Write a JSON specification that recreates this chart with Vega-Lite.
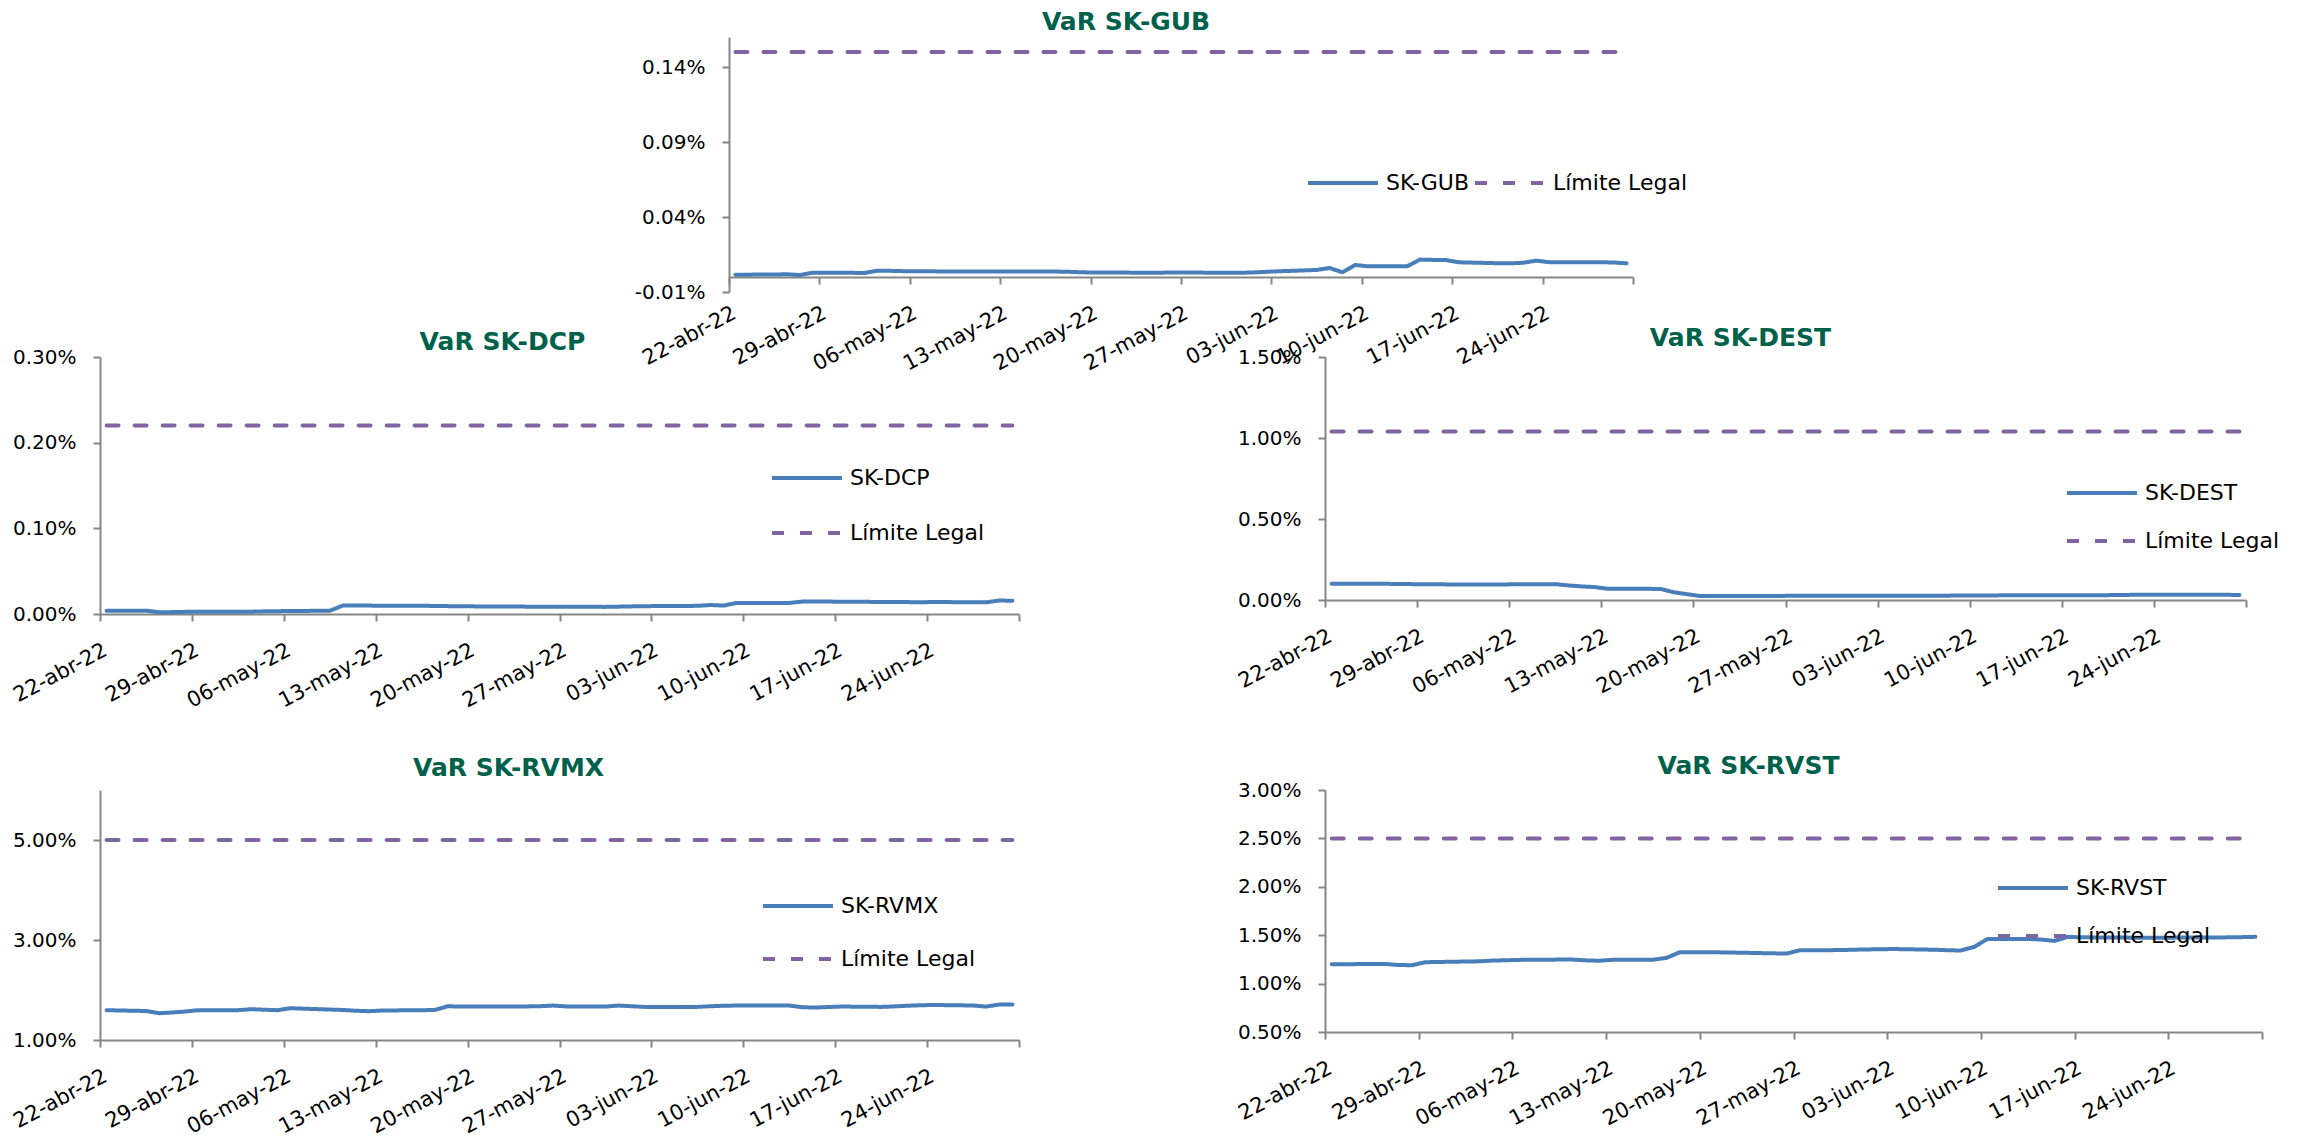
{
"$schema": "https://vega.github.io/schema/vega-lite/v6.json",
"padding": {"left": 9, "top": 10, "right": 0, "bottom": 0},
"background": "white",
"config": {
  "view": {"stroke": null},
  "font": "DejaVu Sans",
  "axis": {"domainColor": "#868686", "domainWidth": 2, "tickColor": "#868686", "tickWidth": 2, "tickSize": 7, "grid": false, "labelFont": "DejaVu Sans", "labelFontSize": 20, "labelColor": "#000000", "title": null, "labelOverlap": false, "labelFlush": false},
  "axisX": {"labelAngle": -28, "labelAlign": "right", "labelBaseline": "top", "labelFontSize": 21, "labelPadding": 18},
  "axisY": {"labelPadding": 17},
  "legend": {"orient": "none", "title": null, "symbolType": "stroke", "symbolSize": 4900, "symbolStrokeWidth": 4, "labelFont": "DejaVu Sans", "labelFontSize": 22, "labelColor": "#000000", "labelOffset": 6, "padding": 0},
  "title": {"font": "DejaVu Sans", "fontSize": 25, "fontWeight": "bold", "color": "#00614B", "anchor": "middle", "frame": "group"},
  "line": {"strokeWidth": 4, "strokeCap": "round", "strokeJoin": "round"}
},
"datasets": {
"gub": [
{"s":"SK-GUB","d":"2022-04-22T12:00","v":0.000015},{"s":"SK-GUB","d":"2022-04-25T12:00","v":0.000017},{"s":"SK-GUB","d":"2022-04-26T12:00","v":0.000018},{"s":"SK-GUB","d":"2022-04-27T12:00","v":0.000013},{"s":"SK-GUB","d":"2022-04-28T12:00","v":0.000029},{"s":"SK-GUB","d":"2022-04-29T12:00","v":0.000029},
{"s":"SK-GUB","d":"2022-05-02T12:00","v":0.000027},{"s":"SK-GUB","d":"2022-05-03T12:00","v":0.000042},{"s":"SK-GUB","d":"2022-05-04T12:00","v":0.000041},{"s":"SK-GUB","d":"2022-05-05T12:00","v":0.000039},{"s":"SK-GUB","d":"2022-05-06T12:00","v":0.000038},
{"s":"SK-GUB","d":"2022-05-09T12:00","v":0.000037},{"s":"SK-GUB","d":"2022-05-10T12:00","v":0.000037},{"s":"SK-GUB","d":"2022-05-11T12:00","v":0.000037},{"s":"SK-GUB","d":"2022-05-12T12:00","v":0.000036},{"s":"SK-GUB","d":"2022-05-13T12:00","v":0.000036},
{"s":"SK-GUB","d":"2022-05-16T12:00","v":0.000036},{"s":"SK-GUB","d":"2022-05-17T12:00","v":0.000036},{"s":"SK-GUB","d":"2022-05-18T12:00","v":0.000034},{"s":"SK-GUB","d":"2022-05-19T12:00","v":0.000031},{"s":"SK-GUB","d":"2022-05-20T12:00","v":0.000030},
{"s":"SK-GUB","d":"2022-05-23T12:00","v":0.000029},{"s":"SK-GUB","d":"2022-05-24T12:00","v":0.000028},{"s":"SK-GUB","d":"2022-05-25T12:00","v":0.000029},{"s":"SK-GUB","d":"2022-05-26T12:00","v":0.000030},{"s":"SK-GUB","d":"2022-05-27T12:00","v":0.000030},
{"s":"SK-GUB","d":"2022-05-30T12:00","v":0.000028},{"s":"SK-GUB","d":"2022-05-31T12:00","v":0.000028},{"s":"SK-GUB","d":"2022-06-01T12:00","v":0.000030},{"s":"SK-GUB","d":"2022-06-02T12:00","v":0.000034},{"s":"SK-GUB","d":"2022-06-03T12:00","v":0.000038},
{"s":"SK-GUB","d":"2022-06-06T12:00","v":0.000047},{"s":"SK-GUB","d":"2022-06-07T12:00","v":0.000060},{"s":"SK-GUB","d":"2022-06-08T12:00","v":0.000031},{"s":"SK-GUB","d":"2022-06-09T12:00","v":0.000080},{"s":"SK-GUB","d":"2022-06-10T12:00","v":0.000071},
{"s":"SK-GUB","d":"2022-06-13T12:00","v":0.000071},{"s":"SK-GUB","d":"2022-06-14T12:00","v":0.000116},{"s":"SK-GUB","d":"2022-06-15T12:00","v":0.000114},{"s":"SK-GUB","d":"2022-06-16T12:00","v":0.000113},{"s":"SK-GUB","d":"2022-06-17T12:00","v":0.000098},
{"s":"SK-GUB","d":"2022-06-20T12:00","v":0.000092},{"s":"SK-GUB","d":"2022-06-21T12:00","v":0.000091},{"s":"SK-GUB","d":"2022-06-22T12:00","v":0.000095},{"s":"SK-GUB","d":"2022-06-23T12:00","v":0.000109},{"s":"SK-GUB","d":"2022-06-24T12:00","v":0.000099},
{"s":"SK-GUB","d":"2022-06-27T12:00","v":0.000098},{"s":"SK-GUB","d":"2022-06-28T12:00","v":0.000098},{"s":"SK-GUB","d":"2022-06-29T12:00","v":0.000097},{"s":"SK-GUB","d":"2022-06-30T12:00","v":0.000091},
{"s":"Límite Legal","d":"2022-04-22T12:00","v":0.0015},{"s":"Límite Legal","d":"2022-06-30T12:00","v":0.0015}
],
"dcp": [
{"s":"SK-DCP","d":"2022-04-22T12:00","v":0.000039},{"s":"SK-DCP","d":"2022-04-25T12:00","v":0.000039},{"s":"SK-DCP","d":"2022-04-26T12:00","v":0.000020},{"s":"SK-DCP","d":"2022-04-27T12:00","v":0.000022},{"s":"SK-DCP","d":"2022-04-28T12:00","v":0.000025},{"s":"SK-DCP","d":"2022-04-29T12:00","v":0.000027},
{"s":"SK-DCP","d":"2022-05-02T12:00","v":0.000027},{"s":"SK-DCP","d":"2022-05-03T12:00","v":0.000027},{"s":"SK-DCP","d":"2022-05-04T12:00","v":0.000031},{"s":"SK-DCP","d":"2022-05-05T12:00","v":0.000033},{"s":"SK-DCP","d":"2022-05-06T12:00","v":0.000035},
{"s":"SK-DCP","d":"2022-05-09T12:00","v":0.000038},{"s":"SK-DCP","d":"2022-05-10T12:00","v":0.000098},{"s":"SK-DCP","d":"2022-05-11T12:00","v":0.000098},{"s":"SK-DCP","d":"2022-05-12T12:00","v":0.000098},{"s":"SK-DCP","d":"2022-05-13T12:00","v":0.000097},
{"s":"SK-DCP","d":"2022-05-16T12:00","v":0.000096},{"s":"SK-DCP","d":"2022-05-17T12:00","v":0.000094},{"s":"SK-DCP","d":"2022-05-18T12:00","v":0.000092},{"s":"SK-DCP","d":"2022-05-19T12:00","v":0.000090},{"s":"SK-DCP","d":"2022-05-20T12:00","v":0.000089},
{"s":"SK-DCP","d":"2022-05-23T12:00","v":0.000087},{"s":"SK-DCP","d":"2022-05-24T12:00","v":0.000086},{"s":"SK-DCP","d":"2022-05-25T12:00","v":0.000086},{"s":"SK-DCP","d":"2022-05-26T12:00","v":0.000086},{"s":"SK-DCP","d":"2022-05-27T12:00","v":0.000086},
{"s":"SK-DCP","d":"2022-05-30T12:00","v":0.000083},{"s":"SK-DCP","d":"2022-05-31T12:00","v":0.000086},{"s":"SK-DCP","d":"2022-06-01T12:00","v":0.000089},{"s":"SK-DCP","d":"2022-06-02T12:00","v":0.000091},{"s":"SK-DCP","d":"2022-06-03T12:00","v":0.000093},
{"s":"SK-DCP","d":"2022-06-06T12:00","v":0.000095},{"s":"SK-DCP","d":"2022-06-07T12:00","v":0.000105},{"s":"SK-DCP","d":"2022-06-08T12:00","v":0.000098},{"s":"SK-DCP","d":"2022-06-09T12:00","v":0.000129},{"s":"SK-DCP","d":"2022-06-10T12:00","v":0.000129},
{"s":"SK-DCP","d":"2022-06-13T12:00","v":0.000129},{"s":"SK-DCP","d":"2022-06-14T12:00","v":0.000145},{"s":"SK-DCP","d":"2022-06-15T12:00","v":0.000147},{"s":"SK-DCP","d":"2022-06-16T12:00","v":0.000145},{"s":"SK-DCP","d":"2022-06-17T12:00","v":0.000143},
{"s":"SK-DCP","d":"2022-06-20T12:00","v":0.000141},{"s":"SK-DCP","d":"2022-06-21T12:00","v":0.000140},{"s":"SK-DCP","d":"2022-06-22T12:00","v":0.000139},{"s":"SK-DCP","d":"2022-06-23T12:00","v":0.000137},{"s":"SK-DCP","d":"2022-06-24T12:00","v":0.000140},
{"s":"SK-DCP","d":"2022-06-27T12:00","v":0.000137},{"s":"SK-DCP","d":"2022-06-28T12:00","v":0.000137},{"s":"SK-DCP","d":"2022-06-29T12:00","v":0.000157},{"s":"SK-DCP","d":"2022-06-30T12:00","v":0.000155},
{"s":"Límite Legal","d":"2022-04-22T12:00","v":0.0022},{"s":"Límite Legal","d":"2022-06-30T12:00","v":0.0022}
],
"dest": [
{"s":"SK-DEST","d":"2022-04-22T12:00","v":0.00100},{"s":"SK-DEST","d":"2022-04-25T12:00","v":0.00100},{"s":"SK-DEST","d":"2022-04-26T12:00","v":0.00100},{"s":"SK-DEST","d":"2022-04-27T12:00","v":0.00099},{"s":"SK-DEST","d":"2022-04-28T12:00","v":0.00098},{"s":"SK-DEST","d":"2022-04-29T12:00","v":0.00097},
{"s":"SK-DEST","d":"2022-05-02T12:00","v":0.00096},{"s":"SK-DEST","d":"2022-05-03T12:00","v":0.00095},{"s":"SK-DEST","d":"2022-05-04T12:00","v":0.00095},{"s":"SK-DEST","d":"2022-05-05T12:00","v":0.00096},{"s":"SK-DEST","d":"2022-05-06T12:00","v":0.00097},
{"s":"SK-DEST","d":"2022-05-09T12:00","v":0.00098},{"s":"SK-DEST","d":"2022-05-10T12:00","v":0.00090},{"s":"SK-DEST","d":"2022-05-11T12:00","v":0.00084},{"s":"SK-DEST","d":"2022-05-12T12:00","v":0.00080},{"s":"SK-DEST","d":"2022-05-13T12:00","v":0.00069},
{"s":"SK-DEST","d":"2022-05-16T12:00","v":0.00069},{"s":"SK-DEST","d":"2022-05-17T12:00","v":0.00068},{"s":"SK-DEST","d":"2022-05-18T12:00","v":0.00048},{"s":"SK-DEST","d":"2022-05-19T12:00","v":0.00036},{"s":"SK-DEST","d":"2022-05-20T12:00","v":0.00025},
{"s":"SK-DEST","d":"2022-05-23T12:00","v":0.00025},{"s":"SK-DEST","d":"2022-05-24T12:00","v":0.00025},{"s":"SK-DEST","d":"2022-05-25T12:00","v":0.00025},{"s":"SK-DEST","d":"2022-05-26T12:00","v":0.00025},{"s":"SK-DEST","d":"2022-05-27T12:00","v":0.00026},
{"s":"SK-DEST","d":"2022-05-30T12:00","v":0.00026},{"s":"SK-DEST","d":"2022-05-31T12:00","v":0.00026},{"s":"SK-DEST","d":"2022-06-01T12:00","v":0.00026},{"s":"SK-DEST","d":"2022-06-02T12:00","v":0.00026},{"s":"SK-DEST","d":"2022-06-03T12:00","v":0.00026},
{"s":"SK-DEST","d":"2022-06-06T12:00","v":0.00026},{"s":"SK-DEST","d":"2022-06-07T12:00","v":0.00027},{"s":"SK-DEST","d":"2022-06-08T12:00","v":0.00027},{"s":"SK-DEST","d":"2022-06-09T12:00","v":0.00028},{"s":"SK-DEST","d":"2022-06-10T12:00","v":0.00028},
{"s":"SK-DEST","d":"2022-06-13T12:00","v":0.00029},{"s":"SK-DEST","d":"2022-06-14T12:00","v":0.00029},{"s":"SK-DEST","d":"2022-06-15T12:00","v":0.00029},{"s":"SK-DEST","d":"2022-06-16T12:00","v":0.00029},{"s":"SK-DEST","d":"2022-06-17T12:00","v":0.00029},
{"s":"SK-DEST","d":"2022-06-20T12:00","v":0.00030},{"s":"SK-DEST","d":"2022-06-21T12:00","v":0.00031},{"s":"SK-DEST","d":"2022-06-22T12:00","v":0.00032},{"s":"SK-DEST","d":"2022-06-23T12:00","v":0.00033},{"s":"SK-DEST","d":"2022-06-24T12:00","v":0.00033},
{"s":"SK-DEST","d":"2022-06-27T12:00","v":0.00033},{"s":"SK-DEST","d":"2022-06-28T12:00","v":0.00033},{"s":"SK-DEST","d":"2022-06-29T12:00","v":0.00032},{"s":"SK-DEST","d":"2022-06-30T12:00","v":0.00031},
{"s":"Límite Legal","d":"2022-04-22T12:00","v":0.0104},{"s":"Límite Legal","d":"2022-06-30T12:00","v":0.0104}
],
"rvmx": [
{"s":"SK-RVMX","d":"2022-04-22T12:00","v":0.01596},{"s":"SK-RVMX","d":"2022-04-25T12:00","v":0.01580},{"s":"SK-RVMX","d":"2022-04-26T12:00","v":0.01536},{"s":"SK-RVMX","d":"2022-04-27T12:00","v":0.01550},{"s":"SK-RVMX","d":"2022-04-28T12:00","v":0.01570},{"s":"SK-RVMX","d":"2022-04-29T12:00","v":0.01596},
{"s":"SK-RVMX","d":"2022-05-02T12:00","v":0.01596},{"s":"SK-RVMX","d":"2022-05-03T12:00","v":0.01616},{"s":"SK-RVMX","d":"2022-05-04T12:00","v":0.01606},{"s":"SK-RVMX","d":"2022-05-05T12:00","v":0.01596},{"s":"SK-RVMX","d":"2022-05-06T12:00","v":0.01636},
{"s":"SK-RVMX","d":"2022-05-09T12:00","v":0.01609},{"s":"SK-RVMX","d":"2022-05-10T12:00","v":0.01600},{"s":"SK-RVMX","d":"2022-05-11T12:00","v":0.01585},{"s":"SK-RVMX","d":"2022-05-12T12:00","v":0.01576},{"s":"SK-RVMX","d":"2022-05-13T12:00","v":0.01590},
{"s":"SK-RVMX","d":"2022-05-16T12:00","v":0.01596},{"s":"SK-RVMX","d":"2022-05-17T12:00","v":0.01600},{"s":"SK-RVMX","d":"2022-05-18T12:00","v":0.01675},{"s":"SK-RVMX","d":"2022-05-19T12:00","v":0.01669},{"s":"SK-RVMX","d":"2022-05-20T12:00","v":0.01669},
{"s":"SK-RVMX","d":"2022-05-23T12:00","v":0.01669},{"s":"SK-RVMX","d":"2022-05-24T12:00","v":0.01672},{"s":"SK-RVMX","d":"2022-05-25T12:00","v":0.01675},{"s":"SK-RVMX","d":"2022-05-26T12:00","v":0.01689},{"s":"SK-RVMX","d":"2022-05-27T12:00","v":0.01672},
{"s":"SK-RVMX","d":"2022-05-30T12:00","v":0.01669},{"s":"SK-RVMX","d":"2022-05-31T12:00","v":0.01689},{"s":"SK-RVMX","d":"2022-06-01T12:00","v":0.01675},{"s":"SK-RVMX","d":"2022-06-02T12:00","v":0.01662},{"s":"SK-RVMX","d":"2022-06-03T12:00","v":0.01662},
{"s":"SK-RVMX","d":"2022-06-06T12:00","v":0.01662},{"s":"SK-RVMX","d":"2022-06-07T12:00","v":0.01675},{"s":"SK-RVMX","d":"2022-06-08T12:00","v":0.01685},{"s":"SK-RVMX","d":"2022-06-09T12:00","v":0.01689},{"s":"SK-RVMX","d":"2022-06-10T12:00","v":0.01689},
{"s":"SK-RVMX","d":"2022-06-13T12:00","v":0.01689},{"s":"SK-RVMX","d":"2022-06-14T12:00","v":0.01655},{"s":"SK-RVMX","d":"2022-06-15T12:00","v":0.01649},{"s":"SK-RVMX","d":"2022-06-16T12:00","v":0.01660},{"s":"SK-RVMX","d":"2022-06-17T12:00","v":0.01669},
{"s":"SK-RVMX","d":"2022-06-20T12:00","v":0.01662},{"s":"SK-RVMX","d":"2022-06-21T12:00","v":0.01672},{"s":"SK-RVMX","d":"2022-06-22T12:00","v":0.01685},{"s":"SK-RVMX","d":"2022-06-23T12:00","v":0.01695},{"s":"SK-RVMX","d":"2022-06-24T12:00","v":0.01700},
{"s":"SK-RVMX","d":"2022-06-27T12:00","v":0.01690},{"s":"SK-RVMX","d":"2022-06-28T12:00","v":0.01669},{"s":"SK-RVMX","d":"2022-06-29T12:00","v":0.01709},{"s":"SK-RVMX","d":"2022-06-30T12:00","v":0.01709},
{"s":"Límite Legal","d":"2022-04-22T12:00","v":0.05},{"s":"Límite Legal","d":"2022-06-30T12:00","v":0.05}
],
"rvst": [
{"s":"SK-RVST","d":"2022-04-22T12:00","v":0.01200},{"s":"SK-RVST","d":"2022-04-25T12:00","v":0.01202},{"s":"SK-RVST","d":"2022-04-26T12:00","v":0.01203},{"s":"SK-RVST","d":"2022-04-27T12:00","v":0.01192},{"s":"SK-RVST","d":"2022-04-28T12:00","v":0.01190},{"s":"SK-RVST","d":"2022-04-29T12:00","v":0.01221},
{"s":"SK-RVST","d":"2022-05-02T12:00","v":0.01228},{"s":"SK-RVST","d":"2022-05-03T12:00","v":0.01230},{"s":"SK-RVST","d":"2022-05-04T12:00","v":0.01238},{"s":"SK-RVST","d":"2022-05-05T12:00","v":0.01241},{"s":"SK-RVST","d":"2022-05-06T12:00","v":0.01245},
{"s":"SK-RVST","d":"2022-05-09T12:00","v":0.01248},{"s":"SK-RVST","d":"2022-05-10T12:00","v":0.01248},{"s":"SK-RVST","d":"2022-05-11T12:00","v":0.01240},{"s":"SK-RVST","d":"2022-05-12T12:00","v":0.01236},{"s":"SK-RVST","d":"2022-05-13T12:00","v":0.01246},
{"s":"SK-RVST","d":"2022-05-16T12:00","v":0.01247},{"s":"SK-RVST","d":"2022-05-17T12:00","v":0.01265},{"s":"SK-RVST","d":"2022-05-18T12:00","v":0.01324},{"s":"SK-RVST","d":"2022-05-19T12:00","v":0.01324},{"s":"SK-RVST","d":"2022-05-20T12:00","v":0.01325},
{"s":"SK-RVST","d":"2022-05-23T12:00","v":0.01318},{"s":"SK-RVST","d":"2022-05-24T12:00","v":0.01315},{"s":"SK-RVST","d":"2022-05-25T12:00","v":0.01313},{"s":"SK-RVST","d":"2022-05-26T12:00","v":0.01310},{"s":"SK-RVST","d":"2022-05-27T12:00","v":0.01345},
{"s":"SK-RVST","d":"2022-05-30T12:00","v":0.01346},{"s":"SK-RVST","d":"2022-05-31T12:00","v":0.01350},{"s":"SK-RVST","d":"2022-06-01T12:00","v":0.01353},{"s":"SK-RVST","d":"2022-06-02T12:00","v":0.01355},{"s":"SK-RVST","d":"2022-06-03T12:00","v":0.01357},
{"s":"SK-RVST","d":"2022-06-06T12:00","v":0.01350},{"s":"SK-RVST","d":"2022-06-07T12:00","v":0.01345},{"s":"SK-RVST","d":"2022-06-08T12:00","v":0.01342},{"s":"SK-RVST","d":"2022-06-09T12:00","v":0.01379},{"s":"SK-RVST","d":"2022-06-10T12:00","v":0.01462},
{"s":"SK-RVST","d":"2022-06-13T12:00","v":0.01462},{"s":"SK-RVST","d":"2022-06-14T12:00","v":0.01455},{"s":"SK-RVST","d":"2022-06-15T12:00","v":0.01441},{"s":"SK-RVST","d":"2022-06-16T12:00","v":0.01483},{"s":"SK-RVST","d":"2022-06-17T12:00","v":0.01478},
{"s":"SK-RVST","d":"2022-06-20T12:00","v":0.01476},{"s":"SK-RVST","d":"2022-06-21T12:00","v":0.01474},{"s":"SK-RVST","d":"2022-06-22T12:00","v":0.01474},{"s":"SK-RVST","d":"2022-06-23T12:00","v":0.01473},{"s":"SK-RVST","d":"2022-06-24T12:00","v":0.01475},
{"s":"SK-RVST","d":"2022-06-27T12:00","v":0.01476},{"s":"SK-RVST","d":"2022-06-28T12:00","v":0.01478},{"s":"SK-RVST","d":"2022-06-29T12:00","v":0.01480},{"s":"SK-RVST","d":"2022-06-30T12:00","v":0.01483},
{"s":"Límite Legal","d":"2022-04-22T12:00","v":0.025},{"s":"Límite Legal","d":"2022-06-30T12:00","v":0.025}
]
},
"concat": [
{"width": 323, "height": 10, "data": {"values": []}, "mark": "point", "encoding": {}},
{
  "width": 904, "height": 255,
  "title": {"text": "VaR SK-GUB", "dx": -651, "offset": 2},
  "data": {"name": "gub"},
  "mark": {"type": "line"},
  "encoding": {
    "x": {"field": "d", "type": "temporal", "scale": {"domain": [{"year":2022,"month":4,"date":22},{"year":2022,"month":7,"date":1}], "nice": false, "range": [-596, 308]},
      "axis": {"offset": -15, "values": [{"year":2022,"month":4,"date":22},{"year":2022,"month":4,"date":29},{"year":2022,"month":5,"date":6},{"year":2022,"month":5,"date":13},{"year":2022,"month":5,"date":20},{"year":2022,"month":5,"date":27},{"year":2022,"month":6,"date":3},{"year":2022,"month":6,"date":10},{"year":2022,"month":6,"date":17},{"year":2022,"month":6,"date":24},{"year":2022,"month":7,"date":1}],
        "labelExpr": "month(datum.value) == 6 ? '' : timeFormat(datum.value, '%d') + '-' + (month(datum.value) == 3 ? 'abr' : month(datum.value) == 4 ? 'may' : 'jun') + '-22'"}},
    "y": {"field": "v", "type": "quantitative", "scale": {"domain": [-0.0001, 0.0016], "zero": false, "nice": false},
      "axis": {"offset": 596, "values": [-0.0001, 0.0004, 0.0009, 0.0014], "labelExpr": "replace(format(datum.value, '.2%'), '\u2212', '-')"}},
    "color": {"field": "s", "type": "nominal", "scale": {"domain": ["SK-GUB", "Límite Legal"], "range": ["#4A7EBB", "#8064A2"]},
      "legend": {"direction": "horizontal", "legendX": -19, "legendY": 109, "columnPadding": 3}},
    "strokeDash": {"field": "s", "type": "nominal", "scale": {"domain": ["SK-GUB", "Límite Legal"], "range": [[1, 0], [12, 16]]},
      "legend": {"direction": "horizontal", "legendX": -19, "legendY": 109, "columnPadding": 3}}
  }
},
{
  "width": 919, "height": 257,
  "title": {"text": "VaR SK-DCP", "dx": -57, "offset": -8},
  "data": {"name": "dcp"},
  "mark": {"type": "line"},
  "encoding": {
    "x": {"field": "d", "type": "temporal", "scale": {"domain": [{"year":2022,"month":4,"date":22},{"year":2022,"month":7,"date":1}], "nice": false},
      "axis": {"values": [{"year":2022,"month":4,"date":22},{"year":2022,"month":4,"date":29},{"year":2022,"month":5,"date":6},{"year":2022,"month":5,"date":13},{"year":2022,"month":5,"date":20},{"year":2022,"month":5,"date":27},{"year":2022,"month":6,"date":3},{"year":2022,"month":6,"date":10},{"year":2022,"month":6,"date":17},{"year":2022,"month":6,"date":24},{"year":2022,"month":7,"date":1}],
        "labelExpr": "month(datum.value) == 6 ? '' : timeFormat(datum.value, '%d') + '-' + (month(datum.value) == 3 ? 'abr' : month(datum.value) == 4 ? 'may' : 'jun') + '-22'"}},
    "y": {"field": "v", "type": "quantitative", "scale": {"domain": [0, 0.003], "nice": false},
      "axis": {"values": [0, 0.001, 0.002, 0.003], "format": ".2%"}},
    "color": {"field": "s", "type": "nominal", "scale": {"domain": ["SK-DCP", "Límite Legal"], "range": ["#4A7EBB", "#8064A2"]},
      "legend": {"direction": "vertical", "legendX": 670, "legendY": 84, "rowPadding": 7}},
    "strokeDash": {"field": "s", "type": "nominal", "scale": {"domain": ["SK-DCP", "Límite Legal"], "range": [[1, 0], [12, 16]]},
      "legend": {"direction": "vertical", "legendX": 670, "legendY": 84, "rowPadding": 7}}
  }
},
{
  "width": 921, "height": 243,
  "title": {"text": "VaR SK-DEST", "dx": -45, "offset": -4},
  "data": {"name": "dest"},
  "mark": {"type": "line"},
  "encoding": {
    "x": {"field": "d", "type": "temporal", "scale": {"domain": [{"year":2022,"month":4,"date":22},{"year":2022,"month":7,"date":1}], "nice": false},
      "axis": {"values": [{"year":2022,"month":4,"date":22},{"year":2022,"month":4,"date":29},{"year":2022,"month":5,"date":6},{"year":2022,"month":5,"date":13},{"year":2022,"month":5,"date":20},{"year":2022,"month":5,"date":27},{"year":2022,"month":6,"date":3},{"year":2022,"month":6,"date":10},{"year":2022,"month":6,"date":17},{"year":2022,"month":6,"date":24},{"year":2022,"month":7,"date":1}],
        "labelExpr": "month(datum.value) == 6 ? '' : timeFormat(datum.value, '%d') + '-' + (month(datum.value) == 3 ? 'abr' : month(datum.value) == 4 ? 'may' : 'jun') + '-22'"}},
    "y": {"field": "v", "type": "quantitative", "scale": {"domain": [0, 0.015], "nice": false},
      "axis": {"values": [0, 0.005, 0.01, 0.015], "format": ".2%"}},
    "color": {"field": "s", "type": "nominal", "scale": {"domain": ["SK-DEST", "Límite Legal"], "range": ["#4A7EBB", "#8064A2"]},
      "legend": {"direction": "vertical", "legendX": 740, "legendY": 99, "rowPadding": -4}},
    "strokeDash": {"field": "s", "type": "nominal", "scale": {"domain": ["SK-DEST", "Límite Legal"], "range": [[1, 0], [12, 16]]},
      "legend": {"direction": "vertical", "legendX": 740, "legendY": 99, "rowPadding": -4}}
  }
},
{"width": 323, "height": 46, "data": {"values": []}, "mark": "point", "encoding": {}},
{"width": 323, "height": 46, "data": {"values": []}, "mark": "point", "encoding": {}},
{
  "width": 919, "height": 250,
  "title": {"text": "VaR SK-RVMX", "dx": -51, "offset": 9},
  "data": {"name": "rvmx"},
  "mark": {"type": "line"},
  "encoding": {
    "x": {"field": "d", "type": "temporal", "scale": {"domain": [{"year":2022,"month":4,"date":22},{"year":2022,"month":7,"date":1}], "nice": false},
      "axis": {"values": [{"year":2022,"month":4,"date":22},{"year":2022,"month":4,"date":29},{"year":2022,"month":5,"date":6},{"year":2022,"month":5,"date":13},{"year":2022,"month":5,"date":20},{"year":2022,"month":5,"date":27},{"year":2022,"month":6,"date":3},{"year":2022,"month":6,"date":10},{"year":2022,"month":6,"date":17},{"year":2022,"month":6,"date":24},{"year":2022,"month":7,"date":1}],
        "labelExpr": "month(datum.value) == 6 ? '' : timeFormat(datum.value, '%d') + '-' + (month(datum.value) == 3 ? 'abr' : month(datum.value) == 4 ? 'may' : 'jun') + '-22'"}},
    "y": {"field": "v", "type": "quantitative", "scale": {"domain": [0.01, 0.06], "zero": false, "nice": false},
      "axis": {"values": [0.01, 0.03, 0.05], "format": ".2%"}},
    "color": {"field": "s", "type": "nominal", "scale": {"domain": ["SK-RVMX", "Límite Legal"], "range": ["#4A7EBB", "#8064A2"]},
      "legend": {"direction": "vertical", "legendX": 661, "legendY": 79, "rowPadding": 5}},
    "strokeDash": {"field": "s", "type": "nominal", "scale": {"domain": ["SK-RVMX", "Límite Legal"], "range": [[1, 0], [12, 16]]},
      "legend": {"direction": "vertical", "legendX": 661, "legendY": 79, "rowPadding": 5}}
  }
},
{
  "width": 937, "height": 242,
  "title": {"text": "VaR SK-RVST", "dx": -45, "offset": 1},
  "data": {"name": "rvst"},
  "mark": {"type": "line"},
  "encoding": {
    "x": {"field": "d", "type": "temporal", "scale": {"domain": [{"year":2022,"month":4,"date":22},{"year":2022,"month":7,"date":1}], "nice": false},
      "axis": {"values": [{"year":2022,"month":4,"date":22},{"year":2022,"month":4,"date":29},{"year":2022,"month":5,"date":6},{"year":2022,"month":5,"date":13},{"year":2022,"month":5,"date":20},{"year":2022,"month":5,"date":27},{"year":2022,"month":6,"date":3},{"year":2022,"month":6,"date":10},{"year":2022,"month":6,"date":17},{"year":2022,"month":6,"date":24},{"year":2022,"month":7,"date":1}],
        "labelExpr": "month(datum.value) == 6 ? '' : timeFormat(datum.value, '%d') + '-' + (month(datum.value) == 3 ? 'abr' : month(datum.value) == 4 ? 'may' : 'jun') + '-22'"}},
    "y": {"field": "v", "type": "quantitative", "scale": {"domain": [0.005, 0.03], "zero": false, "nice": false},
      "axis": {"values": [0.005, 0.01, 0.015, 0.02, 0.025, 0.03], "format": ".2%"}},
    "color": {"field": "s", "type": "nominal", "scale": {"domain": ["SK-RVST", "Límite Legal"], "range": ["#4A7EBB", "#8064A2"]},
      "legend": {"direction": "vertical", "legendX": 671, "legendY": 61, "rowPadding": 0}},
    "strokeDash": {"field": "s", "type": "nominal", "scale": {"domain": ["SK-RVST", "Límite Legal"], "range": [[1, 0], [12, 16]]},
      "legend": {"direction": "vertical", "legendX": 671, "legendY": 61, "rowPadding": 0}}
  }
}
],
"columns": 2,
"spacing": {"row": 65, "column": 306},
"bounds": "flush",
"resolve": {"scale": {"color": "independent", "strokeDash": "independent", "x": "independent", "y": "independent"}, "legend": {"color": "independent", "strokeDash": "independent"}}
}
